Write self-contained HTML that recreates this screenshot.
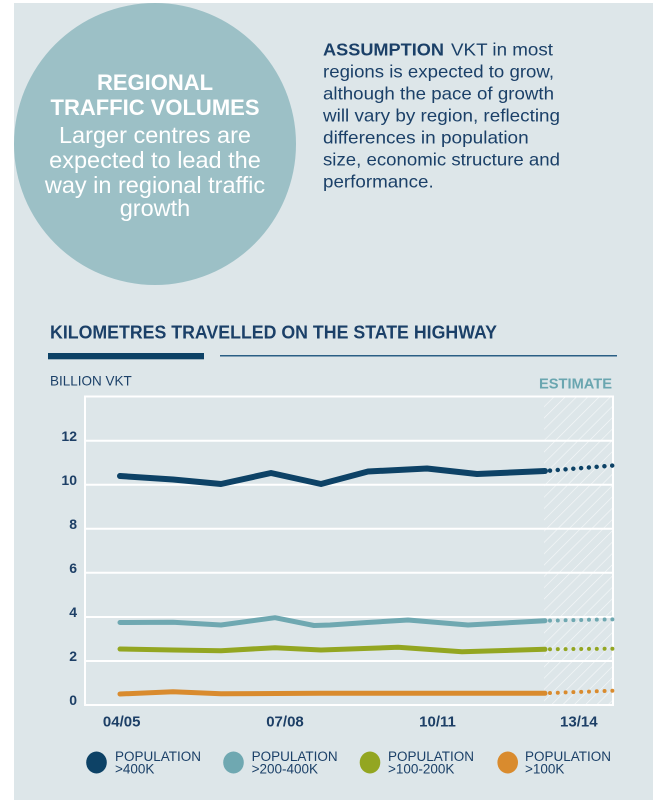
<!DOCTYPE html>
<html>
<head>
<meta charset="utf-8">
<style>
  html, body { margin: 0; padding: 0; background: #ffffff; }
  svg { display: block; }
  text { font-family: "Liberation Sans", sans-serif; }
</style>
</head>
<body>
<svg width="660" height="800" viewBox="0 0 660 800" xmlns="http://www.w3.org/2000/svg">
  <defs>
    <pattern id="hatch" patternUnits="userSpaceOnUse" width="8" height="8" patternTransform="rotate(45)">
      <line x1="0" y1="0" x2="0" y2="8" stroke="#ffffff" stroke-opacity="0.75" stroke-width="1.2"/>
    </pattern>
  </defs>

  <!-- panel -->
  <rect x="14" y="3" width="639" height="797" fill="#dde6e9"/>

  <!-- circle -->
  <circle cx="155" cy="144" r="141" fill="#9cc0c6"/>
  <g fill="#ffffff" text-anchor="middle">
    <text x="155" y="90" font-size="22" font-weight="bold">REGIONAL</text>
    <text x="155" y="115" font-size="22" font-weight="bold">TRAFFIC VOLUMES</text>
    <text x="155" y="143" font-size="23.5">Larger centres are</text>
    <text x="155" y="168" font-size="23.5">expected to lead the</text>
    <text x="155" y="193" font-size="23.5">way in regional traffic</text>
    <text x="155" y="216" font-size="23.5">growth</text>
  </g>

  <!-- assumption paragraph -->
  <g fill="#1b4068" font-size="17.5">
    <text x="323" y="55.7" font-weight="bold" textLength="121" lengthAdjust="spacingAndGlyphs">ASSUMPTION</text>
    <text x="451" y="55.7" textLength="102" lengthAdjust="spacingAndGlyphs">VKT in most</text>
    <text x="323" y="77.7" textLength="231" lengthAdjust="spacingAndGlyphs">regions is expected to grow,</text>
    <text x="323" y="99.7" textLength="231" lengthAdjust="spacingAndGlyphs">although the pace of growth</text>
    <text x="323" y="121.7" textLength="237" lengthAdjust="spacingAndGlyphs">will vary by region, reflecting</text>
    <text x="323" y="143.7" textLength="205.7" lengthAdjust="spacingAndGlyphs">differences in population</text>
    <text x="323" y="165.7" textLength="237" lengthAdjust="spacingAndGlyphs">size, economic structure and</text>
    <text x="323" y="187.7" textLength="110.7" lengthAdjust="spacingAndGlyphs">performance.</text>
  </g>

  <!-- chart title -->
  <text x="50" y="338.3" font-size="18" font-weight="bold" fill="#1b4068" textLength="447" lengthAdjust="spacingAndGlyphs">KILOMETRES TRAVELLED ON THE STATE HIGHWAY</text>
  <rect x="48" y="353" width="156" height="6.3" fill="#0d4266"/>
  <rect x="220" y="355" width="397" height="1.5" fill="#2a5f85"/>

  <text x="50" y="385.7" font-size="14" fill="#1b4068" textLength="81.7" lengthAdjust="spacingAndGlyphs">BILLION VKT</text>
  <text x="539" y="388.3" font-size="15" font-weight="bold" fill="#6aa6b0" textLength="73" lengthAdjust="spacingAndGlyphs">ESTIMATE</text>

  <!-- estimate hatch -->
  <rect x="544" y="396" width="69" height="309" fill="url(#hatch)"/>

  <!-- gridlines -->
  <g stroke="#ffffff" stroke-width="2" fill="none">
    <line x1="85" y1="440.7" x2="613" y2="440.7"/>
    <line x1="85" y1="484.7" x2="613" y2="484.7"/>
    <line x1="85" y1="528.7" x2="613" y2="528.7"/>
    <line x1="85" y1="572.7" x2="613" y2="572.7"/>
    <line x1="85" y1="617" x2="613" y2="617"/>
    <line x1="85" y1="661" x2="613" y2="661"/>
    <rect x="85" y="396.5" width="528" height="308.5"/>
  </g>

  <!-- y labels -->
  <g fill="#1d3f66" font-size="14" font-weight="bold" text-anchor="end">
    <text x="77" y="441">12</text>
    <text x="77" y="485">10</text>
    <text x="77" y="529">8</text>
    <text x="77" y="573">6</text>
    <text x="77" y="617">4</text>
    <text x="77" y="661">2</text>
    <text x="77" y="705">0</text>
  </g>

  <!-- x labels -->
  <g fill="#1d3f66" font-size="15" font-weight="bold" text-anchor="middle">
    <text x="121.7" y="726.7">04/05</text>
    <text x="285" y="726.7">07/08</text>
    <text x="437.5" y="726.7">10/11</text>
    <text x="578.8" y="726.7">13/14</text>
  </g>

  <!-- series -->
  <g fill="none" stroke-linejoin="round" stroke-linecap="round">
    <!-- dark -->
    <polyline stroke="#0d4266" stroke-width="6"
      points="120,476 173,479.5 221,484 271,473 321,484 368,471.5 427,468.5 477,474 545,471"/>
    <line x1="550" y1="470.6" x2="613" y2="465.5" stroke="#0d4266" stroke-width="4.5" stroke-dasharray="0 7.8"/>
    <!-- teal -->
    <polyline stroke="#6fa8b1" stroke-width="5"
      points="120,622.5 173,622.3 221,625 275,617.7 314,625.5 330,625 367,622.5 408,620 468,625 545,620.7"/>
    <line x1="550" y1="620.6" x2="613" y2="619.3" stroke="#6fa8b1" stroke-width="4" stroke-dasharray="0 7.8"/>
    <!-- green -->
    <polyline stroke="#93a621" stroke-width="5"
      points="120,649 173,650 221,650.7 275,647.7 321,650 398,647.3 462,651.7 545,649.3"/>
    <line x1="550" y1="649.2" x2="613" y2="648.7" stroke="#93a621" stroke-width="4" stroke-dasharray="0 7.8"/>
    <!-- orange -->
    <polyline stroke="#d98b2e" stroke-width="5"
      points="120,694 173,691.7 221,693.7 321,693.3 545,693.3"/>
    <line x1="550" y1="693" x2="613" y2="690.7" stroke="#d98b2e" stroke-width="4" stroke-dasharray="0 7.8"/>
  </g>

  <!-- legend -->
  <ellipse cx="96.5" cy="762.5" rx="10.3" ry="11" fill="#0d4266"/>
  <ellipse cx="233.5" cy="762.5" rx="10.3" ry="11" fill="#6fa8b1"/>
  <ellipse cx="370" cy="762.5" rx="10.3" ry="11" fill="#93a621"/>
  <ellipse cx="507.7" cy="762.5" rx="10.3" ry="11" fill="#d98b2e"/>
  <g fill="#1b4068" font-size="13.5">
    <text x="115" y="761" textLength="86" lengthAdjust="spacingAndGlyphs">POPULATION</text>
    <text x="115" y="773.5">&gt;400K</text>
    <text x="251.6" y="761" textLength="86" lengthAdjust="spacingAndGlyphs">POPULATION</text>
    <text x="251.6" y="773.5">&gt;200-400K</text>
    <text x="388" y="761" textLength="86" lengthAdjust="spacingAndGlyphs">POPULATION</text>
    <text x="388" y="773.5">&gt;100-200K</text>
    <text x="525" y="761" textLength="86" lengthAdjust="spacingAndGlyphs">POPULATION</text>
    <text x="525" y="773.5">&gt;100K</text>
  </g>
</svg>
</body>
</html>
